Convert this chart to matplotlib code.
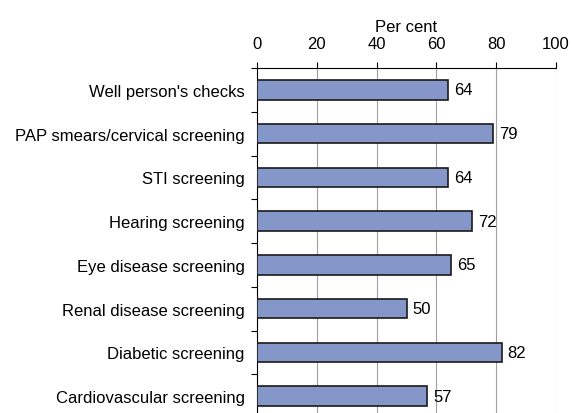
import matplotlib
matplotlib.use("Agg")
import matplotlib.pyplot as plt
import numpy as np

categories = ["Well person's checks", "PAP smears/cervical screening", "STI screening",
              "Hearing screening", "Eye disease screening", "Renal disease screening",
              "Diabetic screening", "Cardiovascular screening"]
values = [64, 79, 64, 72, 65, 50, 82, 57]
xticks = [0, 20, 40, 60, 80, 100]

plt.rcParams['font.family'] = ['Liberation Sans', 'DejaVu Sans']
FS = 12

fig = plt.figure(figsize=(5.72, 4.14), dpi=100)
ax = fig.add_axes([257/572, -5/414, 299/572, 350/414])

y = np.arange(len(categories))
bars = ax.barh(y, values, height=0.45, color='#8497C8', edgecolor='#1a1a1a', linewidth=1.2, zorder=3)
for yi, v in zip(y, values):
    ax.annotate(str(v), (v, yi), xytext=(4, 0), textcoords='offset points',
                va='center', ha='left', fontsize=FS)

ax.set_ylim(len(categories) - 0.5, -0.5)
ax.set_xlim(0, 100)
ax.set_yticks(y)
ax.set_yticklabels(categories, fontsize=FS)
ax.set_yticks(np.arange(-0.5, len(categories), 1), minor=True)
ax.tick_params(axis='y', which='major', length=0, pad=9)
ax.tick_params(axis='y', which='minor', length=4, direction='out', width=0.8)

ax.xaxis.tick_top()
ax.xaxis.set_label_position('top')
ax.set_xticks(xticks)
ax.set_xticklabels([str(t) for t in xticks], fontsize=FS)
ax.tick_params(axis='x', length=4, direction='out', width=0.8, pad=8)
ax.set_xlabel('Per cent', fontsize=FS, labelpad=4)

ax.grid(axis='x', color='#A0A0A0', linewidth=0.8, zorder=0)
for s in ['right', 'bottom']:
    ax.spines[s].set_visible(False)
ax.spines['top'].set_linewidth(0.8)
ax.spines['left'].set_linewidth(0.8)

fig.savefig('out.png', dpi=100)
